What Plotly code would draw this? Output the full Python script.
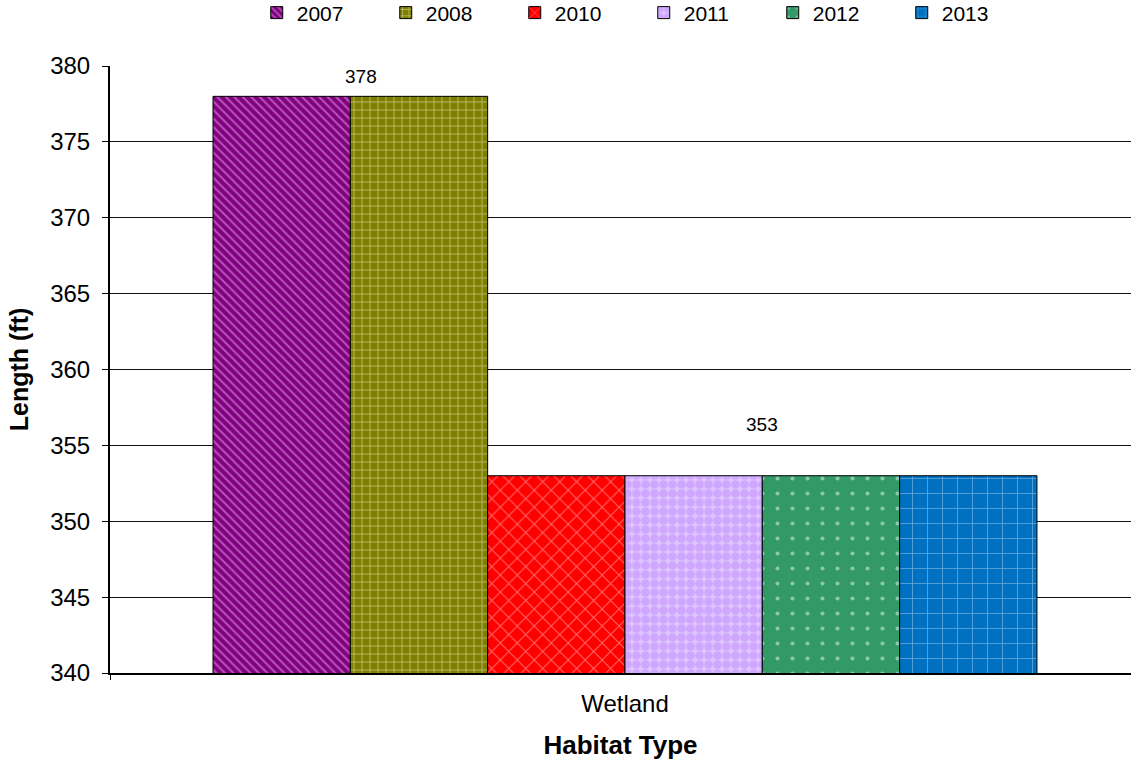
import plotly.graph_objects as go

# Habitat length by survey year
habitat = ["Wetland"]
years = ["2007", "2008", "2010", "2011", "2012", "2013"]
lengths = [378, 378, 353, 353, 353, 353]

# fill colour, pattern shape, pattern colour, pattern size, solidity
styles = {
    "2007": ("#800080", "\\", "#E8A8E8", 6, 0.35),
    "2008": ("#808000", "+", "#F4F4D8", 8, 0.22),
    "2010": ("#FF0000", "x", "#FFD0D0", 12, 0.16),
    "2011": ("#E0C4FF", ".", "#C08AFF", 9, 0.72),
    "2012": ("#339966", ".", "#E8F5EE", 15, 0.06),
    "2013": ("#0070C0", "+", "#C8E4FA", 15, 0.1),
}

FONT = "Liberation Sans, Arial, sans-serif"
BARGAP = 0.2

fig = go.Figure()
for yr, val in zip(years, lengths):
    color, shape, fg, size, sol = styles[yr]
    fig.add_trace(go.Bar(
        name=yr,
        x=habitat,
        y=[val],
        marker=dict(
            color=color,
            line=dict(color="#000000", width=1),
            pattern=dict(shape=shape, fgcolor=fg, size=size,
                         solidity=sol, fillmode="overlay"),
        ),
    ))

# one label over each run of bars that share a value
bar_w = (1 - BARGAP) / len(years)
runs = []
start = 0
for i in range(1, len(years) + 1):
    if i == len(years) or lengths[i] != lengths[start]:
        runs.append((start, i - 1))
        start = i
label_shift = {378: (11, 7), 353: (0, 39)}
for a, b in runs:
    val = lengths[a]
    xc = -(1 - BARGAP) / 2 + bar_w * (a + b + 1) / 2
    dx, dy = label_shift.get(val, (0, 8))
    fig.add_annotation(
        x=xc, y=val, xref="x", yref="y", text=str(val), showarrow=False,
        yanchor="bottom", xshift=dx, yshift=dy,
        font=dict(family=FONT, size=19, color="#000000"),
    )

fig.update_layout(
    width=1131,
    height=763,
    margin=dict(l=110, r=0, t=66, b=90, autoexpand=False),
    paper_bgcolor="white",
    plot_bgcolor="white",
    barmode="group",
    bargap=BARGAP,
    bargroupgap=0,
    font=dict(family=FONT, color="#000000"),
    legend=dict(
        orientation="h",
        xref="container", yref="container",
        x=0.227, y=0.983, xanchor="left", yanchor="middle",
        entrywidth=84, entrywidthmode="pixels",
        font=dict(family=FONT, size=21),
        itemclick=False,
    ),
    showlegend=True,
)

fig.update_xaxes(
    type="category",
    range=[-0.5, 0.4913],
    showline=True, linecolor="#000000", linewidth=2,
    ticks="outside", tickson="boundaries", ticklen=5, tickcolor="#000000",
    ticklabelstandoff=8,
    tickfont=dict(family=FONT, size=24),
    title=dict(text="<b>Habitat Type</b>", font=dict(family=FONT, size=26), standoff=20),
    showgrid=False,
)
fig.update_yaxes(
    range=[340, 380],
    dtick=5,
    showline=True, linecolor="#000000", linewidth=2,
    ticks="outside", ticklen=6, tickcolor="#000000",
    ticklabelstandoff=7,
    tickfont=dict(family=FONT, size=24),
    showgrid=True, gridcolor="#111111", gridwidth=1.3,
    zeroline=False,
    title=dict(text="<b>Length (ft)</b>", font=dict(family=FONT, size=25), standoff=14),
)

fig.write_html("out.html")
